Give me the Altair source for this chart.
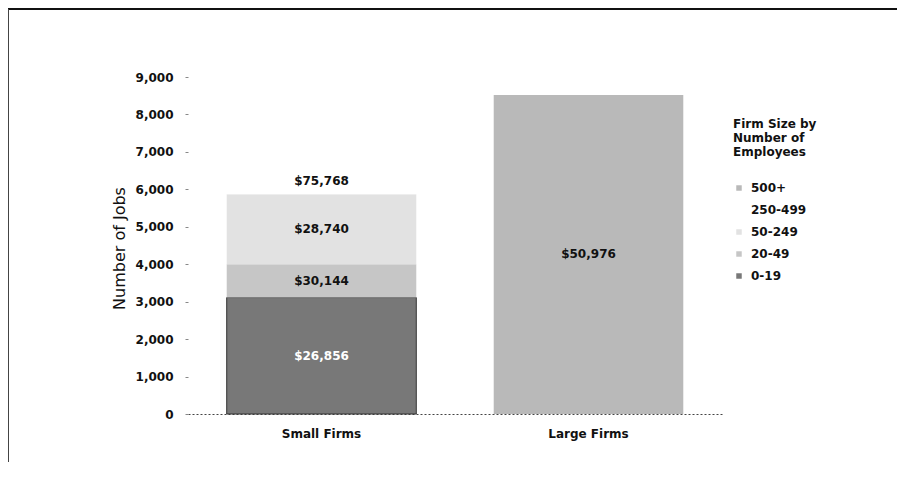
import altair as alt
import pandas as pd

firms = ["Small Firms", "Small Firms", "Small Firms", "Small Firms", "Large Firms"]
sizes = ["0-19", "20-49", "50-249", "250-499", "500+"]
jobs = [3110, 890, 1870, 700, 8520]
wages = ["$26,856", "$30,144", "$28,740", "$75,768", "$50,976"]
rank = [0, 1, 2, 3, 4]

legend_order = ["500+", "250-499", "50-249", "20-49", "0-19"]
legend_colors = ["#b9b9b9", "#ffffff", "#e2e2e2", "#c6c6c6", "#787878"]
firm_order = ["Small Firms", "Large Firms"]
y_ticks = [0, 1000, 2000, 3000, 4000, 5000, 6000, 7000, 8000, 9000]

df = pd.DataFrame({"firm": firms, "size": sizes, "jobs": jobs, "wage": wages, "rank": rank})
df["end"] = df.groupby("firm")["jobs"].cumsum()
df["mid"] = df["end"] - df["jobs"] / 2

FONT = "DejaVu Sans"

x_axis = alt.Axis(labelAngle=0, ticks=False, labelPadding=14,
                  domainColor="#444", domainDash=[2, 2], domainWidth=1,
                  labelFont=FONT, labelFontSize=12, labelFontWeight="bold",
                  labelColor="#111")
x_scale = alt.Scale(paddingInner=0.29, paddingOuter=0.145)
y_axis = alt.Axis(values=y_ticks, format=",.0f", grid=False,
                  domain=False, tickSize=3, tickColor="#888", labelPadding=12,
                  labelFont=FONT, labelFontSize=12, labelFontWeight="bold",
                  labelColor="#111", labelOverlap=False,
                  titleFont=FONT, titleFontSize=16,
                  titleFontWeight="normal", titleColor="#111",
                  titleAngle=-90, titleX=-61, titleY=171,
                  titleAlign="center", titleBaseline="bottom")
y_scale = alt.Scale(domain=[0, 9000], nice=False)

bars = alt.Chart(df).mark_bar(stroke="#333", strokeWidth=1).encode(
    x=alt.X("firm:N", sort=firm_order, title=None, scale=x_scale, axis=x_axis),
    y=alt.Y("jobs:Q", stack="zero", scale=y_scale, title="Number of Jobs", axis=y_axis),
    color=alt.Color("size:N", scale=alt.Scale(domain=legend_order, range=legend_colors),
                    legend=alt.Legend(title=["Firm Size by", "Number of", "Employees"],
                                      orient="none", legendX=545, legendY=42,
                                      titleFont=FONT, titleFontSize=12, titleFontWeight="bold",
                                      titleColor="#111", titleLineHeight=14, titlePadding=23,
                                      labelFont=FONT, labelFontSize=12, labelFontWeight="bold",
                                      labelColor="#111", symbolType="square", symbolSize=30,
                                      symbolStrokeWidth=0, rowPadding=10, labelOffset=6)),
    strokeOpacity=alt.condition(alt.datum.size == "0-19", alt.value(1), alt.value(0)),
    order=alt.Order("rank:Q", sort="ascending"),
)

labels = alt.Chart(df).mark_text(font=FONT, fontSize=12, fontWeight="bold").encode(
    x=alt.X("firm:N", sort=firm_order, title=None, scale=x_scale, axis=x_axis),
    y=alt.Y("mid:Q", scale=y_scale, title="Number of Jobs", axis=y_axis),
    text="wage:N",
    color=alt.condition(alt.datum.size == "0-19", alt.value("white"), alt.value("#111")),
)

frame_top = alt.Chart(df).mark_rule(color="#111", strokeWidth=2).encode(
    x=alt.value(-180), x2=alt.value(709), y=alt.value(-68))
frame_left = alt.Chart(df).mark_rule(color="#444", strokeWidth=1).encode(
    x=alt.value(-179.5), y=alt.value(-68), y2=alt.value(386))

chart = alt.layer(bars, labels, frame_top, frame_left).properties(
    width=534, height=337,
    autosize=alt.AutoSizeParams(type="none"),
    padding={"left": 180, "top": 69, "right": 175, "bottom": 48},
    background="white",
).configure_view(stroke=None)

chart.save("out.html", embed_options={"renderer": "svg", "actions": False})
